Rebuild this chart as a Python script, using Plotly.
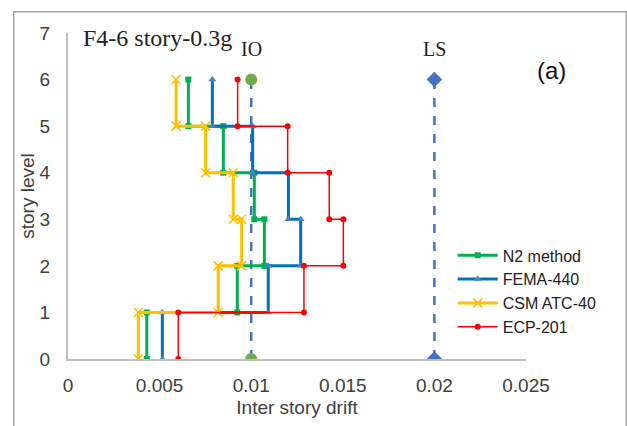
import plotly.graph_objects as go

stories = [0, 1, 2, 3, 4, 5, 6]
n2_method = [0.0043, 0.00924, 0.01072, 0.01017, 0.00848, 0.00657]
fema_440 = [0.00515, 0.01093, 0.0127, 0.01203, 0.01008, 0.00788]
csm_atc40 = [0.00384, 0.0082, 0.00948, 0.00902, 0.00751, 0.0059]
ecp_201 = [0.00602, 0.01288, 0.01503, 0.01426, 0.01199, 0.00926]
io_limit = 0.01
ls_limit = 0.02
x_ticks = [0, 0.005, 0.01, 0.015, 0.02, 0.025]
x_tick_labels = ["0", "0.005", "0.01", "0.015", "0.02", "0.025"]
y_ticks = [0, 1, 2, 3, 4, 5, 6, 7]


def steps(drifts):
    xs, ys = [], []
    for i, d in enumerate(drifts):
        xs += [d, d]
        ys += [stories[i], stories[i + 1]]
    return xs, ys


fig = go.Figure()

# performance limit lines
fig.add_trace(go.Scatter(
    x=[io_limit, io_limit], y=[stories[0], stories[-1]], mode="lines+markers",
    line=dict(color="#4472C4", width=2.5, dash="dash"),
    marker=dict(symbol="circle", size=12, color="#70AD47"),
    showlegend=False, hoverinfo="skip"))
fig.add_trace(go.Scatter(
    x=[ls_limit, ls_limit], y=[stories[0], stories[-1]], mode="lines+markers",
    line=dict(color="#4472C4", width=2.5, dash="dash"),
    marker=dict(symbol="diamond", size=12, color="#4472C4"),
    showlegend=False, hoverinfo="skip"))

series = [
    ("N2 method", n2_method, "#00B050", 3, dict(symbol="square", size=6)),
    ("FEMA-440", fema_440, "#0070C0", 3, dict(symbol="triangle-up", size=7, color="#4F81BD")),
    ("CSM ATC-40", csm_atc40, "#FFC000", 3, dict(symbol="x-thin-open", size=9, line=dict(width=1.5, color="#FFC000"))),
    ("ECP-201", ecp_201, "#FF0000", 1.5, dict(symbol="circle", size=6)),
]
for name, vals, color, w, mk in series:
    xs, ys = steps(vals)
    m = dict(color=color)
    m.update(mk)
    fig.add_trace(go.Scatter(x=xs, y=ys, mode="lines+markers", name=name,
                             line=dict(color=color, width=w), marker=m))

# outer border drawn as an empty bordered annotation box
fig.add_annotation(text=" ", xref="paper", yref="paper",
                   x=(13 - 68) / 458, y=(359 - 11) / 326, xanchor="left", yanchor="top",
                   width=611, height=440, showarrow=False, borderpad=0,
                   bordercolor="#A6A6A6", borderwidth=1.5, bgcolor="rgba(0,0,0,0)")

fig.add_annotation(text="F4-6 story-0.3g", xref="paper", yref="paper",
                   x=(81 - 68) / 458, y=(359 - 38) / 326, xanchor="left", yanchor="middle",
                   showarrow=False, font=dict(family="Liberation Serif", size=24, color="#222222"))
fig.add_annotation(text="IO", x=io_limit, y=6.65, xref="x", yref="y", showarrow=False,
                   font=dict(family="Liberation Serif", size=20, color="#222222"))
fig.add_annotation(text="LS", x=ls_limit, y=6.65, xref="x", yref="y", showarrow=False,
                   font=dict(family="Liberation Serif", size=20, color="#222222"))
fig.add_annotation(text="(a)", xref="paper", yref="paper",
                   x=(568 - 68) / 458, y=(359 - 55) / 326, showarrow=False,
                   font=dict(family="Liberation Sans", size=24, color="#111111"))

fig.update_layout(
    width=627, height=426,
    margin=dict(l=68, r=101, t=33, b=67, autoexpand=False),
    paper_bgcolor="white", plot_bgcolor="white",
    font=dict(family="Liberation Sans", color="#404040"),
    legend=dict(x=0.84, y=0.37, xanchor="left", yanchor="top",
                bgcolor="rgba(0,0,0,0)", font=dict(size=16, color="#222222"),
                tracegroupgap=0, itemwidth=40),
    showlegend=True,
)
fig.update_xaxes(range=[0, 0.025], tickvals=x_ticks, ticktext=x_tick_labels, automargin=False,
                 showgrid=False, zeroline=False, showline=True, linecolor="#BFBFBF", linewidth=2,
                 ticks="", tickfont=dict(size=19, color="#404040"), ticklabelstandoff=8,
                 title=dict(text="Inter story drift", font=dict(size=19, color="#404040"), standoff=6))
fig.update_yaxes(range=[0, 7], tickvals=y_ticks, automargin=False,
                 showgrid=False, zeroline=False, showline=True, linecolor="#BFBFBF", linewidth=2,
                 ticks="", tickfont=dict(size=19, color="#404040"), ticklabelstandoff=12,
                 title=dict(text="story level", font=dict(size=19, color="#404040"), standoff=0))

fig.write_html("out.html", post_script="document.body.style.margin='0';",
               config={"displayModeBar": False})
